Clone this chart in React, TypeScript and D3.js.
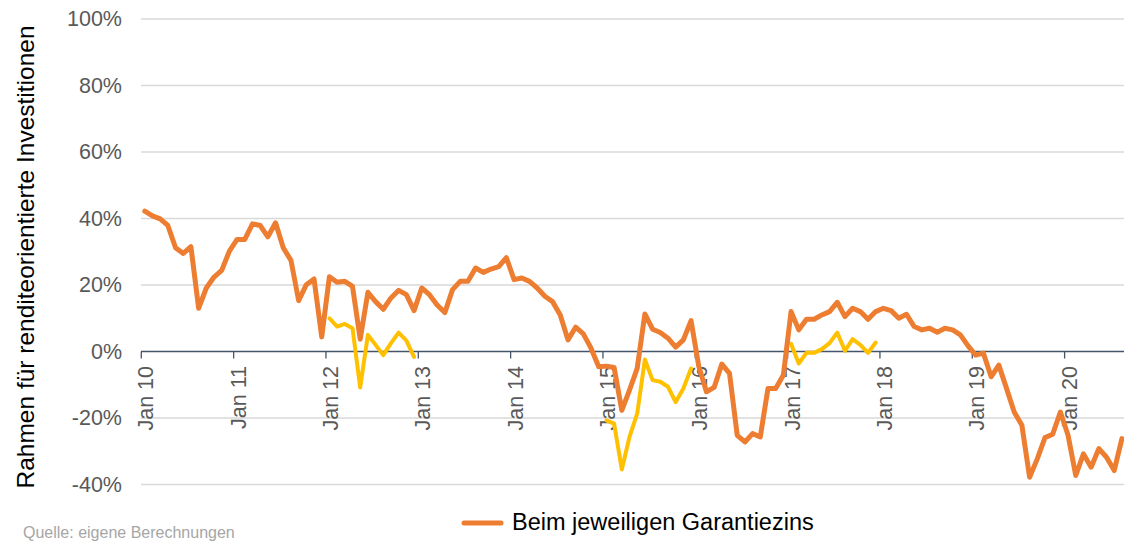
import React from "react";
import * as d3 from "d3";

// Monthly values (in %) from Jan 2010 onwards
const garantiezins: number[] = [
  42.2, 40.8, 39.9, 37.9, 31.2, 29.5, 31.5, 13.0, 19.1, 22.4, 24.4, 30.2,
  33.7, 33.7, 38.4, 37.9, 34.5, 38.7, 31.2, 27.4, 15.3, 20.1, 21.8, 4.4,
  22.5, 20.8, 21.1, 19.6, 3.7, 17.8, 15.0, 12.7, 16.1, 18.4, 17.1, 12.3,
  19.1, 17.1, 14.0, 11.7, 18.6, 21.1, 21.1, 25.1, 23.8, 24.8, 25.5, 28.2,
  21.6, 22.1, 21.1, 19.1, 16.6, 15.0, 11.0, 3.5, 7.3, 5.3, 1.0, -4.6,
  -4.4, -4.8, -17.7, -11.6, -5.1, 11.3, 6.7, 5.7, 4.0, 1.3, 3.5, 9.3,
  -4.4, -12.1, -10.8, -3.8, -6.6, -25.2, -27.2, -24.7, -25.7, -11.1, -11.1, -7.1,
  12.0, 6.5, 9.7, 9.7, 11.0, 12.0, 14.8, 10.5, 13.0, 12.0, 9.7, 12.0,
  13.0, 12.3, 10.0, 11.2, 7.5, 6.5, 7.0, 5.8, 7.0, 6.5, 5.0, 1.7,
  -1.1, -0.5, -7.6, -4.1, -11.1, -18.2, -22.2, -37.8, -32.3, -25.9, -24.9, -18.2,
  -25.2, -37.3, -30.8, -34.8, -29.2, -31.8, -35.8, -26.2,
];

// Yellow yearly segments: start month index + values
const yellow2012Start = 24;
const yellow2012: number[] = [10.0, 7.5, 8.3, 7.0, -10.8, 5.0, 2.0, -1.1, 2.5, 5.7, 3.3, -1.6];
const yellow2015Start = 60;
const yellow2015: number[] = [-20.7, -21.7, -35.5, -25.7, -18.7, -2.4, -8.6, -9.1, -10.6, -15.2, -11.1, -5.1];
const yellow2017Start = 84;
const yellow2017: number[] = [2.3, -3.6, -0.4, -0.4, 0.7, 2.5, 5.7, 0.2, 3.7, 2.0, -0.4, 2.7];

const yTicks: number[] = [-40, -20, 0, 20, 40, 60, 80, 100];
const yearLabels: string[] = ["Jan 10", "Jan 11", "Jan 12", "Jan 13", "Jan 14", "Jan 15", "Jan 16", "Jan 17", "Jan 18", "Jan 19", "Jan 20"];

const W = 1124;
const H = 541;
const FONT = "'Liberation Sans', Arial, Helvetica, sans-serif";

export default function App() {
  const x = d3.scaleLinear().domain([0, 120]).range([141.3, 1064.6]);
  const y = d3.scaleLinear().domain([-40, 100]).range([484.5, 19]);
  const off = 0.45;

  const line = d3
    .line<number>()
    .x((_, i) => x(i + off))
    .y((d) => y(d))
    .curve(d3.curveLinear);

  const seg = (start: number) =>
    d3
      .line<number>()
      .x((_, i) => x(start + i + off))
      .y((d) => y(d));

  const yellowSegs: [number, number[]][] = [
    [yellow2012Start, yellow2012],
    [yellow2015Start, yellow2015],
    [yellow2017Start, yellow2017],
  ];

  return (
    <svg
      width={W}
      height={H}
      style={{ position: "absolute", left: 0, top: 0, background: "#fff" }}
      fontFamily={FONT}
    >
      <defs>
        <clipPath id="plot">
          <rect x={0} y={0} width={W} height={H} />
        </clipPath>
      </defs>
      {/* gridlines */}
      {yTicks
        .filter((t) => t !== 0)
        .map((t) => (
          <line key={t} x1={141} x2={W} y1={y(t)} y2={y(t)} stroke="#d9d9d9" strokeWidth={1.3} />
        ))}
      {/* y tick labels */}
      {yTicks.map((t) => (
        <text
          key={"l" + t}
          x={122}
          y={y(t)}
          textAnchor="end"
          dominantBaseline="central"
          fontSize={21.5}
          fill="#595959"
        >
          {t + "%"}
        </text>
      ))}
      {/* zero axis */}
      <line x1={141} x2={W} y1={y(0)} y2={y(0)} stroke="#44546a" strokeWidth={1.3} />
      {yearLabels.map((lab, k) => {
        const tx = x(k * 12);
        return (
          <g key={lab}>
            <line x1={tx} x2={tx} y1={y(0)} y2={y(0) + 7} stroke="#44546a" strokeWidth={1.3} />
            <text
              transform={`translate(${tx + 12},366) rotate(-90)`}
              textAnchor="end"
              fontSize={21.5}
              fill="#595959"
            >
              {lab}
            </text>
          </g>
        );
      })}
      {/* series */}
      <g clipPath="url(#plot)">
        {yellowSegs.map(([s, vals]) => (
          <path
            key={s}
            d={seg(s)(vals) || ""}
            fill="none"
            stroke="#ffc000"
            strokeWidth={4}
            strokeLinejoin="round"
            strokeLinecap="round"
          />
        ))}
        <path
          d={line(garantiezins) || ""}
          fill="none"
          stroke="#ed7d31"
          strokeWidth={5}
          strokeLinejoin="round"
          strokeLinecap="round"
        />
      </g>
      {/* y title */}
      <text
        transform="translate(34,257) rotate(-90)"
        textAnchor="middle"
        fontSize={24.5}
        fill="#000"
      >
        Rahmen für renditeorientierte Investitionen
      </text>
      {/* legend */}
      <line x1={464} x2={501} y1={523} y2={523} stroke="#ed7d31" strokeWidth={5} strokeLinecap="round" />
      <text x={512} y={530} fontSize={23.5} fill="#000">
        Beim jeweiligen Garantiezins
      </text>
      {/* source */}
      <text x={23} y={538} fontSize={16} fill="#a6a6a6">
        Quelle: eigene Berechnungen
      </text>
    </svg>
  );
}
